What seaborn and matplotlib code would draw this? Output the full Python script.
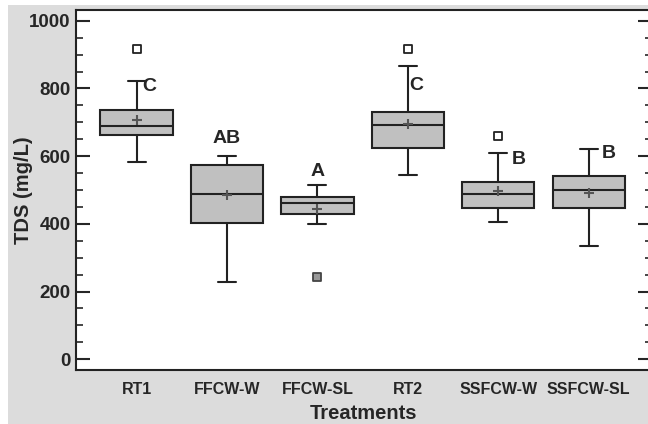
import matplotlib
matplotlib.use("Agg")
import matplotlib.pyplot as plt
import seaborn as sns
import pandas as pd
from matplotlib.patches import Rectangle
from matplotlib.ticker import MultipleLocator

# box statistics (mg/L)
treatments = ["RT1", "FFCW-W", "FFCW-SL", "RT2", "SSFCW-W", "SSFCW-SL"]
whisker_low = [583, 228, 399, 544, 405, 334]
q1 = [663, 402, 429, 624, 447, 447]
median = [689, 488, 462, 692, 488, 500]
q3 = [737, 574, 479, 731, 524, 541]
whisker_high = [822, 601, 515, 867, 609, 621]
means = [707, 485, 443, 695, 497, 491]

outlier_treatment = ["RT1", "RT2", "SSFCW-W"]
outlier_value = [917, 917, 660]
low_outlier_treatment = ["FFCW-SL"]
low_outlier_value = [243]

letters = ["C", "AB", "A", "C", "B", "B"]
letter_height = [805, 651, 556, 808, 589, 607]
letter_shift = [0.14, 0.0, 0.0, 0.09, 0.23, 0.22]

sns.set_style("ticks")
plt.rcParams["font.family"] = ["Liberation Sans", "DejaVu Sans"]
plt.rcParams["font.weight"] = "bold"

fig = plt.figure(figsize=(6.48, 4.24), dpi=100)
fig.patch.set_facecolor("white")
# grey panel behind the chart
fig.patches.append(Rectangle((8 / 648, 0), 1, 1 - 5 / 424, transform=fig.transFigure,
                             facecolor="#dcdcdc", edgecolor="none", zorder=-10))
ax = fig.add_axes([76 / 648, 54 / 424, 576 / 648, 360 / 424])
ax.set_facecolor("white")

pos = {t: i for i, t in enumerate(treatments)}
stats = []
for i, t in enumerate(treatments):
    stats.append(dict(label=t, whislo=whisker_low[i], q1=q1[i], med=median[i],
                      q3=q3[i], whishi=whisker_high[i], fliers=[]))

ax.bxp(stats, positions=range(len(treatments)), widths=0.8, capwidths=0.2,
       showfliers=False, patch_artist=True,
       boxprops=dict(facecolor="#c0c0c0", edgecolor="#222222", linewidth=1.5),
       medianprops=dict(color="#222222", linewidth=1.5),
       whiskerprops=dict(color="#222222", linewidth=1.5),
       capprops=dict(color="#222222", linewidth=1.5))

mean_df = pd.DataFrame({"pos": [pos[t] for t in treatments], "TDS": means})
sns.scatterplot(data=mean_df, x="pos", y="TDS", marker="+", s=55, color="#555555",
                linewidth=1.5, ax=ax, zorder=5)

out_df = pd.DataFrame({"pos": [pos[t] for t in outlier_treatment], "TDS": outlier_value})
sns.scatterplot(data=out_df, x="pos", y="TDS", marker="s", s=30, facecolor="white",
                edgecolor="#222222", linewidth=1.3, ax=ax, zorder=5)
low_df = pd.DataFrame({"pos": [pos[t] for t in low_outlier_treatment], "TDS": low_outlier_value})
sns.scatterplot(data=low_df, x="pos", y="TDS", marker="s", s=30, facecolor="#999999",
                edgecolor="#444444", linewidth=1.3, ax=ax, zorder=5)

for i, t in enumerate(treatments):
    ax.text(pos[t] + letter_shift[i], letter_height[i], letters[i], ha="center",
            va="center", fontsize=14, fontweight="bold")

ax.set_xlim(-0.67, 5.7)
ax.set_ylim(-32, 1032)
ax.set_xticks(range(len(treatments)))
ax.set_xticklabels(treatments)
ax.yaxis.set_major_locator(MultipleLocator(200))
ax.yaxis.set_minor_locator(MultipleLocator(50))
ax.tick_params(axis="y", which="major", direction="in", length=10, width=1.5,
               labelsize=13.5, left=True, right=True, pad=4)
ax.tick_params(axis="y", which="minor", direction="in", length=5, width=1.2,
               left=True, right=True)
ax.tick_params(axis="x", length=0, labelsize=11.5, pad=9)
for s in ax.spines.values():
    s.set_linewidth(1.5)
    s.set_color("#222222")

ax.set_xlabel("Treatments", fontsize=14.5, fontweight="bold", labelpad=5)
ax.set_ylabel("TDS (mg/L)", fontsize=14.5, fontweight="bold")
ax.yaxis.set_label_coords(-0.074, 0.5)

fig.savefig("out.png", dpi=100, facecolor=fig.get_facecolor())
